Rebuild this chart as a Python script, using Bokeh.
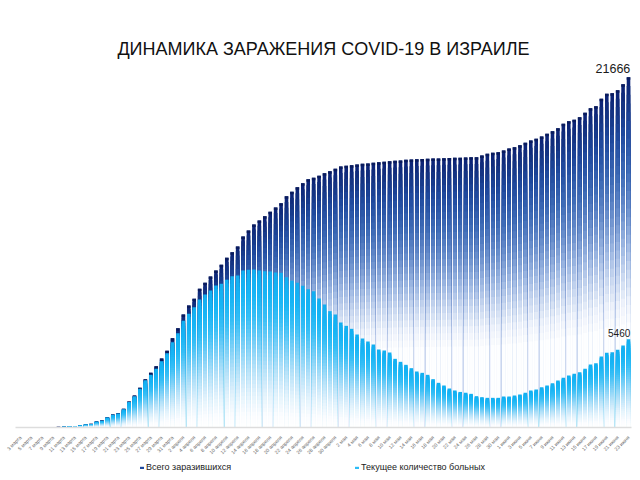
from bokeh.plotting import figure
from bokeh.models import Range1d, FixedTicker, Label, Legend, LegendItem, ColumnDataSource
from bokeh.embed import file_html
from bokeh.resources import INLINE
from bokeh.core.properties import value

# ---------------- data ----------------
title_text = "ДИНАМИКА ЗАРАЖЕНИЯ COVID-19 В ИЗРАИЛЕ"
series_names = ["Всего заразившихся", "Текущее количество больных"]

# one value per day, 3 March .. 23 June
total_cases = [
    7, 10, 12, 15, 17, 21, 25, 39, 45, 62,
    82, 124, 186, 227, 371, 433, 639, 804, 887, 1155,
    1608, 1980, 2453, 2990, 3390, 3793, 4268, 4742, 5525, 6144,
    6989, 7546, 7958, 8577, 8948, 9339, 9711, 10062, 10494, 10844,
    11195, 11814, 12185, 12556, 12803, 13070, 13338, 13607, 13875, 14308,
    14575, 14865, 15110, 15360, 15444, 15568, 15730, 15855, 16000, 16143,
    16185, 16225, 16266, 16310, 16329, 16370, 16410, 16430, 16470, 16495,
    16514, 16555, 16576, 16590, 16600, 16620, 16630, 16638, 16660, 16670,
    16680, 16690, 16700, 16710, 16720, 16823, 16928, 16990, 17030, 17135,
    17260, 17340, 17460, 17610, 17750, 17860, 18000, 18165, 18330, 18510,
    18780, 18945, 19030, 19190, 19460, 19750, 19870, 20330, 20640, 20680,
    20860, 21230, 21666,
]
active_cases = [
    6, 9, 11, 14, 16, 19, 23, 36, 42, 58,
    78, 119, 180, 219, 360, 420, 622, 785, 862, 1125,
    1570, 1935, 2395, 2920, 3258, 3628, 4103, 4598, 5278, 5835,
    6597, 7030, 7443, 7917, 8226, 8473, 8783, 8886, 9133, 9360,
    9401, 9711, 9752, 9772, 9711, 9669, 9649, 9587, 9566, 9298,
    9080, 8960, 8763, 8556, 8432, 7979, 7608, 7195, 6989, 6494,
    6288, 6103, 5752, 5505, 5319, 5134, 4824, 4763, 4639, 4247,
    4062, 3876, 3670, 3464, 3381, 3258, 2990, 2763, 2598, 2412,
    2290, 2200, 2150, 2082, 1938, 1876, 1835, 1835, 1835, 1917,
    1917, 1979, 2041, 2144, 2288, 2350, 2495, 2598, 2742, 2907,
    3072, 3216, 3319, 3422, 3628, 3897, 3979, 4391, 4618, 4659,
    4803, 5072, 5460,
]

# tick labels: every second day starting with the first bar
tick_labels = [
    "3 марта", "5 марта", "7 марта", "9 марта", "11 марта", "13 марта", "15 марта",
    "17 марта", "19 марта", "21 марта", "23 марта", "25 марта", "27 марта", "29 марта",
    "31 марта",
    "2 апреля", "4 апреля", "6 апреля", "8 апреля", "10 апреля", "12 апреля", "14 апреля",
    "16 апреля", "18 апреля", "20 апреля", "22 апреля", "24 апреля", "26 апреля",
    "28 апреля", "30 апреля",
    "2 мая", "4 мая", "6 мая", "8 мая", "10 мая", "12 мая", "14 мая", "16 мая", "18 мая",
    "20 мая", "22 мая", "24 мая", "26 мая", "28 мая", "30 мая",
    "1 июня", "3 июня", "5 июня", "7 июня", "9 июня", "11 июня", "13 июня", "15 июня",
    "17 июня", "19 июня", "21 июня", "23 июня",
]

# ---------------- styling helpers ----------------
DARK_STOPS = [(0.0, "#ffffff"), (0.28, "#ffffff"), (0.36, "#eef3fb"), (0.45, "#c6d6ef"),
              (0.54, "#98b3e0"), (0.63, "#6a8fcc"), (0.74, "#3e6bb7"), (0.86, "#1f4a9e"),
              (0.95, "#12307f"), (1.0, "#0c2275")]
LIGHT_STOPS = [(0.0, "#ffffff"), (0.08, "#fbfdff"), (0.22, "#e2f2fc"), (0.38, "#b4e1f9"),
               (0.54, "#78cff7"), (0.70, "#38bff6"), (0.85, "#17b5f5"), (1.0, "#12aef0")]


def hex2rgb(h):
    return tuple(int(h[i:i + 2], 16) for i in (1, 3, 5))


def ramp(stops, f):
    for (f0, c0), (f1, c1) in zip(stops[:-1], stops[1:]):
        if f0 <= f <= f1:
            t = 0 if f1 == f0 else (f - f0) / (f1 - f0)
            a, b = hex2rgb(c0), hex2rgb(c1)
            return "#%02x%02x%02x" % tuple(round(a[j] + (b[j] - a[j]) * t) for j in range(3))
    return stops[-1][1]


def gradient_source(vals, stops, K=40, legend_level=0.8):
    # first row: legend swatch colour (zero-height bar); then stacked gradient slices
    xs, tops, cols = [0], [0], [ramp(stops, legend_level)]
    for k in range(K - 1, -1, -1):
        c = ramp(stops, (k + 0.5) / K)
        if c == "#ffffff":
            continue
        for i, v in enumerate(vals):
            xs.append(i)
            tops.append(v * (k + 1) / K)
            cols.append(c)
    return ColumnDataSource(dict(x=xs, top=tops, color=cols))


# ---------------- figure ----------------
W, H = 640, 480
frame_right, baseline_px = 636, 427
px_per_day = 5.4286
x_first = 20
units_per_px = 61.85

x_start = -x_first / px_per_day
x_end = x_start + frame_right / px_per_day
y_start = -(H - baseline_px) * units_per_px
y_end = baseline_px * units_per_px

p = figure(frame_width=frame_right, frame_height=H,
           output_backend="svg", toolbar_location=None,
           x_range=Range1d(x_start, x_end), y_range=Range1d(y_start, y_end),
           y_axis_location=None, min_border_left=0, min_border_right=W - frame_right,
           min_border_top=0, min_border_bottom=0)
p.outline_line_color = None
p.grid.visible = False
p.background_fill_color = "white"

bar_w = 0.66
n = len(total_cases)

r_total = p.vbar(x="x", top="top", bottom=0, width=bar_w, fill_color="color", line_color=None,
                 source=gradient_source(total_cases, DARK_STOPS, legend_level=0.86))
cap = 2.5 * units_per_px
p.vbar(x=list(range(n)), top=total_cases, bottom=[max(0, v - cap) for v in total_cases],
       width=bar_w, fill_color="#0a1b5c", line_color=None)
r_active = p.vbar(x="x", top="top", bottom=0, width=bar_w, fill_color="color", line_color=None,
                  source=gradient_source(active_cases, LIGHT_STOPS, legend_level=0.75))

# value labels on last bars
p.text(x=[n - 1 + bar_w / 2], y=[total_cases[-1]], text=[str(total_cases[-1])],
       text_align="right", text_baseline="bottom", y_offset=-4,
       text_font=value("Liberation Sans"), text_font_size="12.5px", text_color="#1a1a1a")
p.text(x=[n - 1 + bar_w / 2], y=[active_cases[-1]], text=[str(active_cases[-1])],
       text_align="right", text_baseline="bottom", y_offset=-2,
       text_font=value("Liberation Sans"), text_font_size="10px", text_color="#1a1a1a")

# title
p.add_layout(Label(x=323, y=H - 48, x_units="screen", y_units="screen",
                   text=title_text, text_align="center", text_baseline="middle",
                   text_font="Liberation Sans", text_font_size="18px", text_color="#111111"))

# x axis, pinned at the zero line
ticks = list(range(0, n, 2))
ax = p.xaxis[0]
ax.fixed_location = 0
ax.bounds = ((15 - x_first) / px_per_day, (631 - x_first) / px_per_day)
ax.ticker = FixedTicker(ticks=ticks)
ax.major_label_overrides = {t: lab for t, lab in zip(ticks, tick_labels)}
ax.major_label_orientation = 0.785
ax.major_label_text_font = "Liberation Sans"
ax.major_label_text_font_size = "5px"
ax.major_label_text_color = "#666666"
ax.major_label_standoff = 3
ax.major_tick_line_color = None
ax.minor_tick_line_color = None
ax.axis_line_color = "#dddddd"
ax.axis_line_width = 1.5

# legend
legend = Legend(items=[LegendItem(label=series_names[0], renderers=[r_total], index=0),
                       LegendItem(label=series_names[1], renderers=[r_active], index=0)],
                orientation="horizontal", glyph_width=5, glyph_height=3, label_standoff=2,
                spacing=123, label_text_font="Liberation Sans", label_text_font_size="9px",
                label_text_color="#222222", label_height=10, border_line_color=None,
                background_fill_alpha=0, padding=0, margin=0,
                location=(139, H - 467 - 5))
p.add_layout(legend)

open("out.html", "w").write(file_html(p, INLINE))
